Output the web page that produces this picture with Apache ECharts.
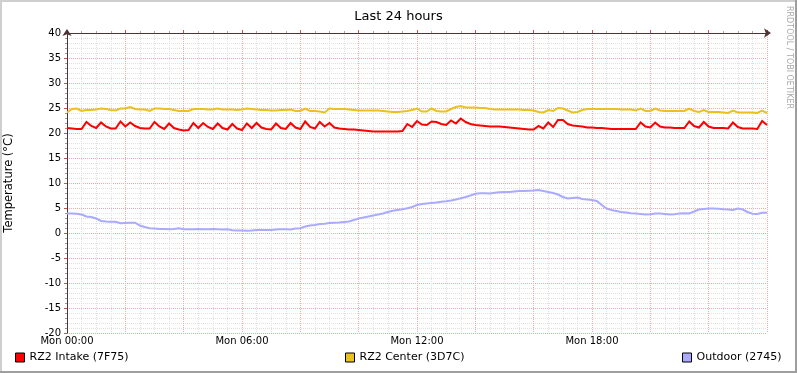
<!DOCTYPE html>
<html><head><meta charset="utf-8">
<script src="https://cdn.jsdelivr.net/npm/echarts@6/dist/echarts.min.js"></script>
<style>html,body{margin:0;padding:0;background:#fff}#c{width:797px;height:373px}</style>
</head><body><div id="c"></div>
<script>
// ---- data ----
const stepMinutes = 10; // one sample every 10 minutes, 00:00 .. 24:00
const xTickLabels = ['Mon 00:00', 'Mon 06:00', 'Mon 12:00', 'Mon 18:00'];
const seriesNames = ['RZ2 Intake (7F75)', 'RZ2 Center (3D7C)', 'Outdoor (2745)'];
const seriesColors = ['#FF0000', '#EAC11E', '#AAAAFF'];

const intake = [
  21.0,20.9,20.8,20.8,22.2,21.4,21.0,22.1,21.3,20.9,
  20.9,22.3,21.3,22.1,21.4,21.0,20.9,20.9,22.2,21.3,
  20.8,21.9,21.0,20.7,20.5,20.6,22.0,21.0,22.0,21.2,
  20.8,21.9,21.0,20.7,21.8,20.9,20.6,21.9,21.0,22.0,
  21.1,20.8,20.7,21.9,21.0,20.8,22.0,21.1,20.8,22.3,
  21.2,20.9,22.2,21.3,22.0,21.1,20.9,20.8,20.7,20.7,
  20.6,20.5,20.4,20.3,20.3,20.3,20.3,20.3,20.3,20.4,
  21.8,21.2,22.4,21.7,21.6,22.3,22.2,21.8,21.6,22.5,
  21.9,22.9,22.2,21.8,21.6,21.5,21.4,21.3,21.3,21.3,
  21.2,21.1,21.0,20.9,20.8,20.7,20.7,21.4,20.9,22.1,
  21.2,22.6,22.6,21.8,21.5,21.4,21.3,21.1,21.1,21.0,
  21.0,20.9,20.8,20.8,20.8,20.8,20.8,20.8,22.1,21.3,
  21.1,22.1,21.3,21.1,21.1,21.0,21.0,21.0,22.3,21.4,
  21.1,22.2,21.3,21.0,21.0,21.0,20.9,22.1,21.2,20.9,
  20.9,20.9,20.8,22.4,21.6
];
const center = [
  24.1,24.8,24.9,24.4,24.6,24.6,24.7,24.9,24.8,24.6,
  24.5,24.9,24.9,25.2,24.8,24.7,24.7,24.4,24.9,24.9,
  24.8,24.8,24.6,24.4,24.4,24.4,24.8,24.8,24.8,24.7,
  24.7,24.9,24.7,24.7,24.7,24.6,24.7,24.9,24.8,24.7,
  24.6,24.6,24.5,24.5,24.6,24.6,24.7,24.4,24.4,24.9,
  24.4,24.4,24.3,24.1,24.9,24.8,24.8,24.8,24.7,24.6,
  24.5,24.5,24.5,24.5,24.5,24.4,24.3,24.2,24.2,24.3,
  24.4,24.6,24.9,24.3,24.3,24.9,24.4,24.3,24.3,24.8,
  25.2,25.4,25.1,25.1,25.1,25.0,25.0,24.8,24.7,24.7,
  24.7,24.7,24.7,24.7,24.6,24.6,24.5,24.2,24.1,24.6,
  24.4,25.0,24.9,24.5,24.1,24.2,24.6,24.8,24.8,24.8,
  24.8,24.8,24.8,24.8,24.7,24.7,24.7,24.5,24.9,24.4,
  24.4,24.9,24.5,24.4,24.4,24.4,24.4,24.4,24.9,24.4,
  24.2,24.6,24.2,24.2,24.2,24.1,24.0,24.5,24.1,24.1,
  24.1,24.1,24.0,24.5,24.0
];
const outdoor = [
  3.9,3.9,3.85,3.7,3.3,3.2,2.9,2.4,2.3,2.25,
  2.25,1.95,2.0,2.05,2.05,1.5,1.2,0.95,0.9,0.8,
  0.8,0.75,0.8,0.95,0.75,0.75,0.75,0.8,0.75,0.75,
  0.8,0.75,0.7,0.75,0.55,0.5,0.5,0.45,0.5,0.6,
  0.6,0.6,0.6,0.7,0.75,0.75,0.7,0.9,0.95,1.3,
  1.5,1.6,1.8,1.85,2.0,2.05,2.1,2.2,2.3,2.6,
  2.9,3.1,3.3,3.5,3.7,3.9,4.2,4.45,4.6,4.75,
  4.95,5.2,5.6,5.8,5.9,6.0,6.1,6.25,6.35,6.5,
  6.7,6.95,7.2,7.5,7.85,7.95,7.95,7.9,8.05,8.15,
  8.2,8.2,8.3,8.4,8.4,8.45,8.5,8.6,8.4,8.2,
  8.0,7.7,7.2,6.9,7.0,7.1,6.8,6.7,6.6,6.4,
  5.6,4.9,4.6,4.4,4.2,4.1,3.95,3.9,3.8,3.7,
  3.75,3.9,3.9,3.8,3.7,3.75,3.9,3.95,3.9,4.3,
  4.7,4.8,4.9,4.9,4.85,4.75,4.7,4.6,4.9,4.7,
  4.2,3.85,3.8,4.05,4.05
];
const seriesValues = [intake, center, outdoor];

// ---- chart ----
const FONT = 'DejaVu Sans';
const AXIS_COLOR = '#4a3434';
const MAJOR_GRID = '#F0AAAA';
const MINOR_GRID = '#E0E0E0';
const totalMinutes = 24 * 60;

const chart = echarts.init(document.getElementById('c'), null, {renderer: 'canvas'});

const series = seriesValues.map((vals, k) => ({
  name: seriesNames[k],
  type: 'line',
  xAxisIndex: 0,
  yAxisIndex: 0,
  data: vals.map((v, i) => [i * stepMinutes, v]),
  showSymbol: false,
  symbol: 'none',
  color: seriesColors[k],
  lineStyle: {width: 2, color: seriesColors[k], join: 'miter'},
  silent: true,
  z: 3
}));

const legendLefts = [15, 345, 682];

chart.setOption({
  animation: false,
  backgroundColor: '#ffffff',
  title: {
    text: 'Last 24 hours',
    left: 'center',
    top: 5,
    textStyle: {fontFamily: FONT, fontSize: 13, fontWeight: 'normal', color: '#000'}
  },
  legend: seriesNames.map((n, k) => ({
    data: [n],
    left: legendLefts[k],
    top: 352,
    padding: 0,
    icon: 'rect',
    itemWidth: 9,
    itemHeight: 9,
    selectedMode: false,
    itemStyle: {borderColor: '#000', borderWidth: 1},
    textStyle: {fontFamily: FONT, fontSize: 11, color: '#000', padding: [0, 0, 0, 0]}
  })),
  grid: {left: 67, top: 33, width: 700, height: 300, containLabel: false, outerBoundsMode: 'none'},
  xAxis: [
    {
      type: 'value', min: 0, max: totalMinutes, interval: 360,
      axisLine: {show: false}, axisTick: {show: false},
      splitLine: {show: false}, minorSplitLine: {show: false},
      axisLabel: {
        show: true, margin: 3, fontFamily: FONT, fontSize: 10, color: '#000',
        formatter: v => { const idx = Math.round(v / 360); return idx < xTickLabels.length ? xTickLabels[idx] : ''; }
      }
    },
    {
      // 30-minute minor grid
      type: 'value', min: 0, max: totalMinutes, interval: 30,
      axisLabel: {show: false},
      axisLine: {show: false},
      axisTick: {show: true, inside: false, length: 2, lineStyle: {color: '#aaa'}},
      splitLine: {show: true, lineStyle: {color: MINOR_GRID, type: 'dotted', width: 1}},
      minorSplitLine: {show: false}
    },
    {
      // 2-hour major grid + axis line
      type: 'value', min: 0, max: totalMinutes, interval: 120,
      axisLabel: {show: false},
      axisLine: {show: true, symbol: ['none', 'arrow'], symbolSize: [7, 7], symbolOffset: [0, 4],
        lineStyle: {color: AXIS_COLOR, width: 1}},
      axisTick: {show: true, inside: false, length: 3, lineStyle: {color: '#D05050'}},
      splitLine: {show: true, lineStyle: {color: MAJOR_GRID, type: 'dotted', width: 1}},
      minorSplitLine: {show: false}
    }
  ],
  yAxis: [{
    type: 'value', min: -20, max: 40, interval: 5,
    name: 'Temperature (°C)',
    nameLocation: 'middle',
    nameGap: 52,
    nameRotate: 90,
    nameTextStyle: {fontFamily: FONT, fontSize: 11.5, color: '#000'},
    axisLine: {show: true, onZero: false, symbol: ['none', 'arrow'], symbolSize: [7, 7], symbolOffset: [0, 4],
      lineStyle: {color: AXIS_COLOR, width: 1}},
    axisTick: {show: true, inside: false, length: 3, lineStyle: {color: '#D05050'}},
    minorTick: {show: true, splitNumber: 5, length: 2, lineStyle: {color: '#999'}},
    axisLabel: {show: true, margin: 6, fontFamily: FONT, fontSize: 10, color: '#000'},
    splitLine: {show: true, lineStyle: {color: MAJOR_GRID, type: 'dotted', width: 1}},
    minorSplitLine: {show: true, lineStyle: {color: MINOR_GRID, type: 'dotted', width: 1}}
  }],
  graphic: [
    {type: 'line', shape: {x1: 0, y1: 1, x2: 797, y2: 1}, style: {stroke: '#CFCFCF', lineWidth: 2}, silent: true},
    {type: 'line', shape: {x1: 1, y1: 0, x2: 1, y2: 373}, style: {stroke: '#CFCFCF', lineWidth: 2}, silent: true},
    {type: 'line', shape: {x1: 0, y1: 372, x2: 797, y2: 372}, style: {stroke: '#9E9E9E', lineWidth: 2}, silent: true},
    {type: 'line', shape: {x1: 796, y1: 0, x2: 796, y2: 373}, style: {stroke: '#9E9E9E', lineWidth: 2}, silent: true},
    {type: 'text', x: 793, y: 6, rotation: -Math.PI / 2, silent: true,
      style: {text: 'RRDTOOL / TOBI OETIKER', fill: '#aaaaaa', font: '8px "DejaVu Sans"', textAlign: 'left', textVerticalAlign: 'top'}}
  ],
  series: series
});
</script>
</body></html>
